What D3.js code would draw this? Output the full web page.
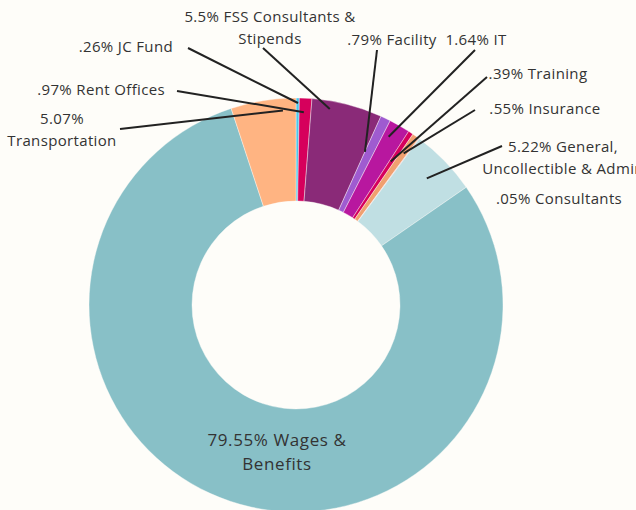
<!DOCTYPE html>
<html>
<head>
<meta charset="utf-8">
<script src="https://cdn.jsdelivr.net/npm/d3@7"></script>
<style>
  body { margin: 0; background: #fefdf9; }
  svg { display: block; font-family: "Open Sans", "Noto Sans", sans-serif; }
</style>
</head>
<body>
<div id="donut-chart"></div>
<script>
// slice categories, clockwise from 12 o'clock
const categories = ['JC Fund', 'Rent Offices', 'FSS Consultants & Stipends', 'Facility', 'IT',
  'Training', 'Insurance', 'Consultants', 'General, Uncollectible & Admin', 'Wages & Benefits', 'Transportation'];
const values = [0.26, 0.97, 5.5, 0.79, 1.64, 0.39, 0.55, 0.05, 5.22, 79.55, 5.07];
const labels = [
  ['.26% JC Fund'],
  ['.97% Rent Offices'],
  ['5.5% FSS Consultants &', 'Stipends'],
  ['.79% Facility'],
  ['1.64% IT'],
  ['.39% Training'],
  ['.55% Insurance'],
  ['.05% Consultants'],
  ['5.22% General,', 'Uncollectible & Admin'],
  ['79.55% Wages &', 'Benefits'],
  ['5.07%', 'Transportation']
];
const colors = ['#4cc6ea', '#d6005c', '#8a2a78', '#9f5bd0', '#b8179f',
  '#d6005c', '#f0a070', '#e8a0a0', '#c0dfe3', '#88c0c7', '#ffb482'];

// label layout: text position, anchor, font size, leader start, where the leader lands in the slice
const labelLayout = [
  { x: 173, y: 52, anchor: 'end', size: 15, sx: 188, sy: 48, frac: 0.6, r: 202 },
  { x: 165, y: 95, anchor: 'end', size: 15, sx: 177, sy: 91, frac: 0.4, r: 193 },
  { x: 270, y: 22, anchor: 'middle', size: 15, sx: 263, sy: 48, frac: 0.27, r: 199 },
  { x: 392, y: 45, anchor: 'middle', size: 15, sx: 377, sy: 50, frac: 0.0, r: 168 },
  { x: 476, y: 45, anchor: 'middle', size: 15, sx: 475, sy: 50, frac: 0.3, r: 192 },
  { x: 538, y: 79, anchor: 'middle', size: 15, sx: 487, sy: 77, frac: 0.3, r: 172 },
  { x: 545, y: 114, anchor: 'middle', size: 15, sx: 475, sy: 110, frac: 0.5, r: 186 },
  { x: 559, y: 204, anchor: 'middle', size: 15, sx: null },
  { x: 563, y: 152, anchor: 'middle', size: 15, sx: 502, sy: 146, frac: 0.5, r: 182 },
  { x: 277, y: 446, anchor: 'middle', size: 17, sx: null },
  { x: 62, y: 124, anchor: 'middle', size: 15, sx: 120, sy: 129, frac: 0.79, r: 195 }
];

const width = 636, height = 510;
const cx = 296, cy = 305;
const outerR = 207, innerR = 104;

const svg = d3.select('#donut-chart')
  .append('svg')
  .attr('width', width)
  .attr('height', height);

svg.append('rect').attr('width', width).attr('height', height).attr('fill', '#fefdf9');

const g = svg.append('g').attr('transform', `translate(${cx}, ${cy})`);

const data = categories.map((c, i) => ({ name: c, value: values[i], idx: i }));

const pie = d3.pie().sort(null).value(d => d.value);
const arc = d3.arc().innerRadius(innerR).outerRadius(outerR);
const arcs = pie(data);

g.selectAll('path.slice')
  .data(arcs)
  .enter()
  .append('path')
  .attr('class', 'slice')
  .attr('d', arc)
  .attr('fill', d => colors[d.data.idx])
  .attr('stroke', '#fefdf9')
  .attr('stroke-width', 0.4);

//leader lines
arcs.forEach(d => {
  const l = labelLayout[d.data.idx];
  if (l.sx === null) return;
  const a = d.startAngle + (d.endAngle - d.startAngle) * l.frac;
  const tx = cx + l.r * Math.sin(a);
  const ty = cy - l.r * Math.cos(a);
  svg.append('line')
    .attr('x1', l.sx).attr('y1', l.sy)
    .attr('x2', tx).attr('y2', ty)
    .attr('stroke', '#222')
    .attr('stroke-width', 2);
});

//labels
arcs.forEach(d => {
  const l = labelLayout[d.data.idx];
  const t = svg.append('text')
    .attr('x', l.x).attr('y', l.y)
    .attr('text-anchor', l.anchor)
    .attr('font-size', l.size + 'px')
    .attr('letter-spacing', l.size > 15 ? '0.6px' : '0.35px')
    .attr('fill', '#333');
  labels[d.data.idx].forEach((line, k) => {
    t.append('tspan').attr('x', l.x).attr('dy', k === 0 ? 0 : (l.size > 15 ? 24 : 22)).text(line);
  });
});
</script>
</body>
</html>
